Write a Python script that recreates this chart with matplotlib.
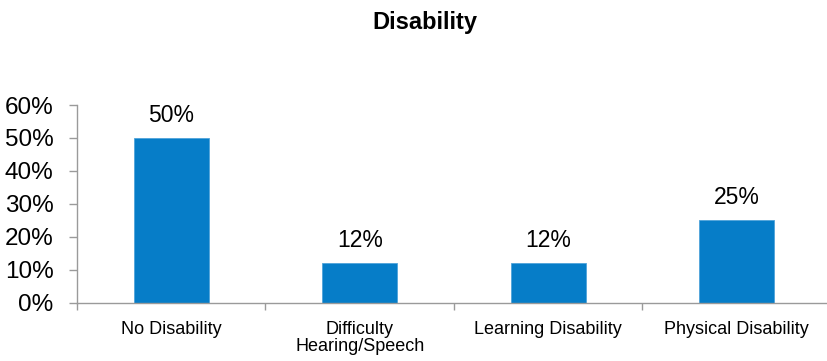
import numpy as np
import matplotlib
matplotlib.use('Agg')
import matplotlib.pyplot as plt


categories = ['No Disability', 'Difficulty\nHearing/Speech', 'Learning Disability', 'Physical Disability']
values = [50, 12, 12, 25]          # percent
yticks = [0, 10, 20, 30, 40, 50, 60]

plt.rcParams['font.family'] = ['Liberation Sans', 'DejaVu Sans']

fig = plt.figure(figsize=(8.28, 3.61), dpi=100)
ax = fig.add_axes([77 / 828, 58.3 / 361, 754 / 828, 197.7 / 361])

x = np.arange(len(categories))
bars = ax.bar(x, values, width=0.4, color='#067DC8', edgecolor='#4FA3DA', linewidth=0.6)

for xi, v in zip(x, values):
    ax.annotate('%d%%' % v, (xi, v), xytext=(0, 8), textcoords='offset points',
                ha='center', va='bottom', fontsize=16.5)

ax.set_xlim(-0.5, 3.5)
ax.set_ylim(0, 60)
ax.set_yticks(yticks)
ax.set_yticklabels(['%d%%' % t for t in yticks], fontsize=17.5)
ax.set_xticks(x)
ax.set_xticklabels(categories, fontsize=13, linespacing=1.0)
ax.set_xticks(np.arange(-0.5, 4, 1), minor=True)

ax.tick_params(axis='x', which='major', length=0, pad=13)
ax.tick_params(axis='x', which='minor', length=5, color='#9a9a9a', width=1)
ax.tick_params(axis='y', length=6, color='#9a9a9a', width=1, pad=11)

for s in ['top', 'right']:
    ax.spines[s].set_visible(False)
for s in ['left', 'bottom']:
    ax.spines[s].set_color('#9a9a9a')
    ax.spines[s].set_linewidth(1)

fig.text(0.513, 0.939, 'Disability', ha='center', va='center', fontsize=17, fontweight='bold')

fig.savefig('out.png', dpi=100)
